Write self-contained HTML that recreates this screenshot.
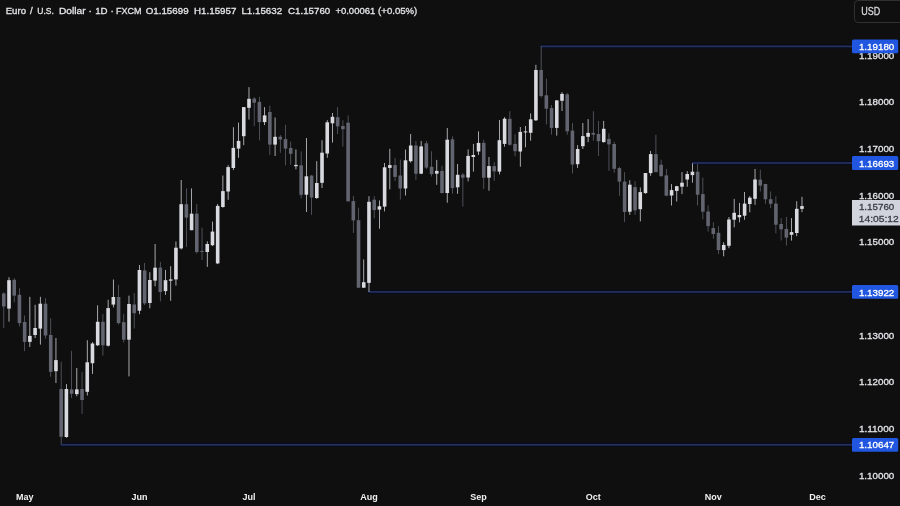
<!DOCTYPE html>
<html><head><meta charset="utf-8"><title>EUR/USD 1D</title>
<style>
html,body{margin:0;padding:0;background:#0f0f0f;}
body{width:900px;height:506px;overflow:hidden;position:relative;font-family:"Liberation Sans",Arial,sans-serif;}
svg{position:absolute;left:0;top:0;display:block;will-change:transform;}
text{paint-order:stroke;}
.usd{position:absolute;left:854px;top:0;width:60px;height:20.7px;border:1px solid #303033;border-radius:4px;box-sizing:content-box;}
</style></head>
<body>
<svg width="900" height="506" viewBox="0 0 900 506">
<rect x="540.13" y="44.4" width="311.87" height="4" fill="#080c1e"/><rect x="540.63" y="45.55" width="311.37" height="1.7" fill="#25315c"/><rect x="691.43" y="161" width="160.57" height="4" fill="#080c1e"/><rect x="691.93" y="162.15" width="160.07" height="1.7" fill="#25315c"/><rect x="367.97" y="289.9" width="484.03" height="4" fill="#080c1e"/><rect x="368.47" y="291.05" width="483.53" height="1.7" fill="#25315c"/><rect x="60.17" y="442.8" width="791.83" height="4" fill="#080c1e"/><rect x="60.67" y="443.95" width="791.33" height="1.7" fill="#25315c"/>
<g fill="#62656f"><rect x="3.41" y="292.2" width="0.75" height="35.8"/><rect x="1.98" y="293.5" width="3.6" height="13"/><rect x="13.84" y="278.2" width="0.75" height="24.1"/><rect x="12.42" y="279.8" width="3.6" height="15.8"/><rect x="19.06" y="288.2" width="0.75" height="38.3"/><rect x="17.63" y="294.8" width="3.6" height="28.3"/><rect x="24.27" y="315.5" width="0.75" height="35.6"/><rect x="22.85" y="322" width="3.6" height="19.9"/><rect x="45.14" y="298.2" width="0.75" height="40.5"/><rect x="43.72" y="303.7" width="3.6" height="31.8"/><rect x="50.36" y="318.2" width="0.75" height="58.5"/><rect x="48.94" y="335" width="3.6" height="36.9"/><rect x="60.79" y="361.7" width="0.75" height="82.6"/><rect x="59.37" y="389" width="3.6" height="47.7"/><rect x="71.23" y="350.8" width="0.75" height="47.2"/><rect x="69.8" y="389.4" width="3.6" height="4.4"/><rect x="81.66" y="372.2" width="0.75" height="41.7"/><rect x="80.24" y="389" width="3.6" height="11"/><rect x="102.53" y="314.1" width="0.75" height="41.5"/><rect x="101.11" y="321.8" width="3.6" height="23.5"/><rect x="118.18" y="284.9" width="0.75" height="39.6"/><rect x="116.76" y="297" width="3.6" height="26.1"/><rect x="123.4" y="313.9" width="0.75" height="28.6"/><rect x="121.97" y="322.2" width="3.6" height="17.5"/><rect x="133.83" y="293.2" width="0.75" height="35.3"/><rect x="132.41" y="304.5" width="3.6" height="8.7"/><rect x="144.27" y="263" width="0.75" height="42"/><rect x="142.84" y="270.4" width="3.6" height="33"/><rect x="159.92" y="262" width="0.75" height="39.4"/><rect x="158.49" y="267.6" width="3.6" height="24.4"/><rect x="186" y="188.4" width="0.75" height="58.5"/><rect x="184.58" y="204.2" width="3.6" height="13.4"/><rect x="196.44" y="204.2" width="0.75" height="49.4"/><rect x="195.01" y="213.7" width="3.6" height="38.3"/><rect x="201.65" y="227.7" width="0.75" height="32.3"/><rect x="200.23" y="250.9" width="3.6" height="1"/><rect x="253.82" y="97.2" width="0.75" height="29"/><rect x="252.4" y="98.6" width="3.6" height="4.1"/><rect x="259.04" y="96.8" width="0.75" height="43.5"/><rect x="257.61" y="101.9" width="3.6" height="20.2"/><rect x="269.47" y="105.7" width="0.75" height="49.2"/><rect x="268.05" y="112" width="3.6" height="32.6"/><rect x="279.91" y="135" width="0.75" height="17.8"/><rect x="278.48" y="136.7" width="3.6" height="2.8"/><rect x="285.12" y="124.8" width="0.75" height="40.5"/><rect x="283.7" y="139.1" width="3.6" height="9.5"/><rect x="290.34" y="141.6" width="0.75" height="23"/><rect x="288.92" y="148" width="3.6" height="5.8"/><rect x="300.78" y="151.4" width="0.75" height="46.9"/><rect x="299.35" y="165.3" width="3.6" height="29.5"/><rect x="311.21" y="175" width="0.75" height="39.8"/><rect x="309.78" y="175.6" width="3.6" height="21.9"/><rect x="337.29" y="107.1" width="0.75" height="26.9"/><rect x="335.87" y="117.2" width="3.6" height="9.2"/><rect x="342.51" y="120.2" width="0.75" height="26.3"/><rect x="341.09" y="126" width="3.6" height="3.2"/><rect x="347.73" y="115.4" width="0.75" height="86.1"/><rect x="346.3" y="122.7" width="3.6" height="78.6"/><rect x="352.95" y="195.8" width="0.75" height="37.1"/><rect x="351.52" y="201.1" width="3.6" height="19.3"/><rect x="358.16" y="207.7" width="0.75" height="80.2"/><rect x="356.74" y="220.2" width="3.6" height="67.5"/><rect x="373.81" y="196.2" width="0.75" height="22.2"/><rect x="372.39" y="199.7" width="3.6" height="10.4"/><rect x="394.68" y="157.9" width="0.75" height="23.1"/><rect x="393.26" y="165.1" width="3.6" height="11.8"/><rect x="399.9" y="159.6" width="0.75" height="39.9"/><rect x="398.47" y="175.5" width="3.6" height="13"/><rect x="415.55" y="140.9" width="0.75" height="39.1"/><rect x="414.12" y="145.5" width="3.6" height="28.2"/><rect x="425.98" y="140.9" width="0.75" height="28.1"/><rect x="424.56" y="143.3" width="3.6" height="24.3"/><rect x="431.2" y="151.3" width="0.75" height="25.2"/><rect x="429.78" y="166.8" width="3.6" height="7.3"/><rect x="441.63" y="165.7" width="0.75" height="27.8"/><rect x="440.21" y="170.9" width="3.6" height="22.1"/><rect x="452.07" y="136.3" width="0.75" height="57.4"/><rect x="450.64" y="139.3" width="3.6" height="48.8"/><rect x="462.5" y="173" width="0.75" height="33.5"/><rect x="461.08" y="174.6" width="3.6" height="3.1"/><rect x="483.37" y="139.7" width="0.75" height="49.3"/><rect x="481.95" y="142.9" width="3.6" height="34.8"/><rect x="493.8" y="162.2" width="0.75" height="18.5"/><rect x="492.38" y="166.1" width="3.6" height="5.3"/><rect x="509.46" y="111.1" width="0.75" height="34.6"/><rect x="508.03" y="118.8" width="3.6" height="26"/><rect x="514.67" y="134.2" width="0.75" height="22.1"/><rect x="513.25" y="143.9" width="3.6" height="7.3"/><rect x="540.76" y="46.3" width="0.75" height="51.3"/><rect x="539.33" y="70" width="3.6" height="26"/><rect x="545.97" y="78.7" width="0.75" height="45.7"/><rect x="544.55" y="95.3" width="3.6" height="13.4"/><rect x="551.19" y="105" width="0.75" height="29.6"/><rect x="549.77" y="108.1" width="3.6" height="19.8"/><rect x="566.84" y="92.9" width="0.75" height="41.8"/><rect x="565.42" y="94.3" width="3.6" height="37"/><rect x="572.06" y="123" width="0.75" height="50.5"/><rect x="570.63" y="130.6" width="3.6" height="33.9"/><rect x="592.93" y="111.2" width="0.75" height="29.5"/><rect x="591.5" y="132.9" width="3.6" height="1.8"/><rect x="598.14" y="120.9" width="0.75" height="35"/><rect x="596.72" y="134" width="3.6" height="7.2"/><rect x="608.58" y="133.4" width="0.75" height="37.4"/><rect x="607.15" y="138.9" width="3.6" height="5.5"/><rect x="613.8" y="141.7" width="0.75" height="31"/><rect x="612.37" y="144" width="3.6" height="24.8"/><rect x="619.01" y="166.8" width="0.75" height="29"/><rect x="617.59" y="168.1" width="3.6" height="13.5"/><rect x="624.23" y="172.2" width="0.75" height="49.9"/><rect x="622.8" y="181.6" width="3.6" height="30.4"/><rect x="634.66" y="181.1" width="0.75" height="33.7"/><rect x="633.24" y="187.1" width="3.6" height="23.2"/><rect x="655.53" y="134.8" width="0.75" height="37.5"/><rect x="654.11" y="154.1" width="3.6" height="18"/><rect x="660.75" y="159.7" width="0.75" height="17.2"/><rect x="659.32" y="164.8" width="3.6" height="11.3"/><rect x="665.97" y="168.9" width="0.75" height="27.3"/><rect x="664.54" y="175.4" width="3.6" height="20.3"/><rect x="697.27" y="164" width="0.75" height="41.5"/><rect x="695.84" y="171.7" width="3.6" height="23"/><rect x="702.48" y="177.7" width="0.75" height="41.6"/><rect x="701.06" y="194.1" width="3.6" height="17.6"/><rect x="707.7" y="205.4" width="0.75" height="26.2"/><rect x="706.28" y="211.5" width="3.6" height="14.6"/><rect x="712.92" y="222.2" width="0.75" height="16.5"/><rect x="711.49" y="228.1" width="3.6" height="5.9"/><rect x="718.14" y="226.1" width="0.75" height="28"/><rect x="716.71" y="232.8" width="3.6" height="17.3"/><rect x="759.87" y="169.7" width="0.75" height="21.8"/><rect x="758.45" y="179.6" width="3.6" height="6"/><rect x="765.09" y="183.8" width="0.75" height="19.9"/><rect x="763.66" y="184" width="3.6" height="15.3"/><rect x="770.31" y="191.5" width="0.75" height="16.6"/><rect x="768.88" y="199.2" width="3.6" height="4.6"/><rect x="775.52" y="196.3" width="0.75" height="37.1"/><rect x="774.1" y="203.6" width="3.6" height="21.1"/><rect x="780.74" y="218.1" width="0.75" height="22.3"/><rect x="779.31" y="224" width="3.6" height="5.3"/><rect x="785.96" y="216.9" width="0.75" height="28.6"/><rect x="784.53" y="228.9" width="3.6" height="8.7"/></g><g fill="#d9dae0"><rect x="8.62" y="277.2" width="0.75" height="44.5"/><rect x="7.2" y="280.2" width="3.6" height="28.4"/><rect x="29.49" y="296.8" width="0.75" height="50.2"/><rect x="28.07" y="335.9" width="3.6" height="6"/><rect x="34.71" y="304.8" width="0.75" height="33.2"/><rect x="33.28" y="328" width="3.6" height="7"/><rect x="39.93" y="296.8" width="0.75" height="47.8"/><rect x="38.5" y="303.7" width="3.6" height="24.9"/><rect x="55.58" y="338" width="0.75" height="45"/><rect x="54.15" y="360.1" width="3.6" height="11.1"/><rect x="66.01" y="384.1" width="0.75" height="53.7"/><rect x="64.59" y="389" width="3.6" height="48"/><rect x="76.44" y="368" width="0.75" height="28.3"/><rect x="75.02" y="389.4" width="3.6" height="4.7"/><rect x="86.88" y="340.2" width="0.75" height="55.3"/><rect x="85.45" y="362.3" width="3.6" height="29.5"/><rect x="92.1" y="342.1" width="0.75" height="31.8"/><rect x="90.67" y="343.5" width="3.6" height="19.7"/><rect x="97.31" y="305.3" width="0.75" height="40.7"/><rect x="95.89" y="321.8" width="3.6" height="23.5"/><rect x="107.75" y="299.8" width="0.75" height="46.7"/><rect x="106.32" y="308.1" width="3.6" height="37.6"/><rect x="112.96" y="279.5" width="0.75" height="27.9"/><rect x="111.54" y="297" width="3.6" height="7.6"/><rect x="128.61" y="295.6" width="0.75" height="80.8"/><rect x="127.19" y="304" width="3.6" height="35.7"/><rect x="139.05" y="265" width="0.75" height="49.2"/><rect x="137.62" y="270" width="3.6" height="40.7"/><rect x="149.48" y="272.2" width="0.75" height="36.1"/><rect x="148.06" y="280" width="3.6" height="23"/><rect x="154.7" y="244" width="0.75" height="42.3"/><rect x="153.27" y="267.7" width="3.6" height="12.9"/><rect x="165.13" y="270" width="0.75" height="24.9"/><rect x="163.71" y="280.2" width="3.6" height="10.9"/><rect x="170.35" y="266.2" width="0.75" height="34.6"/><rect x="168.93" y="279.4" width="3.6" height="1.3"/><rect x="175.57" y="241.5" width="0.75" height="44.1"/><rect x="174.14" y="247.7" width="3.6" height="31.7"/><rect x="180.78" y="180" width="0.75" height="69.5"/><rect x="179.36" y="204.2" width="3.6" height="44.2"/><rect x="191.22" y="188.4" width="0.75" height="41.8"/><rect x="189.79" y="213.7" width="3.6" height="16.5"/><rect x="206.87" y="241.3" width="0.75" height="25.6"/><rect x="205.44" y="244" width="3.6" height="8"/><rect x="212.09" y="221.6" width="0.75" height="24.5"/><rect x="210.66" y="231.6" width="3.6" height="13.6"/><rect x="217.3" y="204" width="0.75" height="60.1"/><rect x="215.88" y="205.9" width="3.6" height="57.5"/><rect x="222.52" y="175.5" width="0.75" height="32.2"/><rect x="221.1" y="191.1" width="3.6" height="15.9"/><rect x="227.74" y="165.2" width="0.75" height="34.6"/><rect x="226.31" y="167.1" width="3.6" height="24.4"/><rect x="232.95" y="127.2" width="0.75" height="42.8"/><rect x="231.53" y="147.9" width="3.6" height="20.1"/><rect x="238.17" y="122.6" width="0.75" height="35.2"/><rect x="236.75" y="140.9" width="3.6" height="7.7"/><rect x="243.39" y="107.1" width="0.75" height="38.1"/><rect x="241.96" y="107.1" width="3.6" height="29.1"/><rect x="248.61" y="87.1" width="0.75" height="32.5"/><rect x="247.18" y="98.8" width="3.6" height="9"/><rect x="264.26" y="107.1" width="0.75" height="18"/><rect x="262.83" y="115.4" width="3.6" height="6.7"/><rect x="274.69" y="117.5" width="0.75" height="38.5"/><rect x="273.27" y="136.8" width="3.6" height="7.8"/><rect x="295.56" y="149.4" width="0.75" height="19.9"/><rect x="294.13" y="164.9" width="3.6" height="1.3"/><rect x="305.99" y="138" width="0.75" height="74"/><rect x="304.57" y="176.3" width="3.6" height="18.4"/><rect x="316.43" y="161.1" width="0.75" height="37.8"/><rect x="315" y="183" width="3.6" height="15"/><rect x="321.64" y="140.2" width="0.75" height="47.8"/><rect x="320.22" y="152.7" width="3.6" height="30.1"/><rect x="326.86" y="120.2" width="0.75" height="37.6"/><rect x="325.44" y="122.3" width="3.6" height="31.2"/><rect x="332.08" y="113" width="0.75" height="29.6"/><rect x="330.65" y="116.8" width="3.6" height="6.5"/><rect x="363.38" y="259.4" width="0.75" height="28.5"/><rect x="361.95" y="282.2" width="3.6" height="5.5"/><rect x="368.6" y="196.2" width="0.75" height="95.7"/><rect x="367.17" y="201.8" width="3.6" height="81.1"/><rect x="379.03" y="200.4" width="0.75" height="28.3"/><rect x="377.61" y="206.3" width="3.6" height="3.3"/><rect x="384.25" y="163" width="0.75" height="48.4"/><rect x="382.82" y="167.3" width="3.6" height="39.3"/><rect x="389.46" y="148.8" width="0.75" height="40.5"/><rect x="388.04" y="165.1" width="3.6" height="2.8"/><rect x="405.12" y="149.6" width="0.75" height="45.9"/><rect x="403.69" y="160.3" width="3.6" height="28.2"/><rect x="410.33" y="134" width="0.75" height="28.6"/><rect x="408.91" y="145.5" width="3.6" height="15.7"/><rect x="420.77" y="140.9" width="0.75" height="33.2"/><rect x="419.34" y="146.4" width="3.6" height="27.3"/><rect x="436.42" y="159.9" width="0.75" height="24.9"/><rect x="434.99" y="170.9" width="3.6" height="2.8"/><rect x="446.85" y="128" width="0.75" height="74.7"/><rect x="445.43" y="139.7" width="3.6" height="53.3"/><rect x="457.29" y="164" width="0.75" height="29.8"/><rect x="455.86" y="174.8" width="3.6" height="12.5"/><rect x="467.72" y="149.4" width="0.75" height="32"/><rect x="466.29" y="155.9" width="3.6" height="21.6"/><rect x="472.94" y="143.9" width="0.75" height="27.7"/><rect x="471.51" y="155" width="3.6" height="2"/><rect x="478.15" y="131.4" width="0.75" height="23.6"/><rect x="476.73" y="142.9" width="3.6" height="8.6"/><rect x="488.59" y="157" width="0.75" height="33.7"/><rect x="487.16" y="166.1" width="3.6" height="11.6"/><rect x="499.02" y="120" width="0.75" height="54.4"/><rect x="497.6" y="140.2" width="3.6" height="31.4"/><rect x="504.24" y="117.2" width="0.75" height="29.5"/><rect x="502.81" y="118.7" width="3.6" height="25.2"/><rect x="519.89" y="127" width="0.75" height="39.7"/><rect x="518.47" y="131.9" width="3.6" height="19.6"/><rect x="525.11" y="126" width="0.75" height="21.3"/><rect x="523.68" y="131.4" width="3.6" height="1"/><rect x="530.32" y="113.4" width="0.75" height="27.3"/><rect x="528.9" y="119.3" width="3.6" height="13.5"/><rect x="535.54" y="64.8" width="0.75" height="56.2"/><rect x="534.12" y="70" width="3.6" height="50.3"/><rect x="556.41" y="100.1" width="0.75" height="35.5"/><rect x="554.98" y="100.4" width="3.6" height="27.5"/><rect x="561.63" y="92.1" width="0.75" height="18.9"/><rect x="560.2" y="93.9" width="3.6" height="6.9"/><rect x="577.28" y="145.1" width="0.75" height="22.8"/><rect x="575.85" y="149" width="3.6" height="15.2"/><rect x="582.49" y="123" width="0.75" height="26"/><rect x="581.07" y="136.1" width="3.6" height="10.1"/><rect x="587.71" y="119.1" width="0.75" height="23"/><rect x="586.29" y="132.9" width="3.6" height="3.9"/><rect x="603.36" y="120.9" width="0.75" height="21.7"/><rect x="601.94" y="128.8" width="3.6" height="13.3"/><rect x="629.45" y="180.2" width="0.75" height="34.6"/><rect x="628.02" y="184.7" width="3.6" height="27"/><rect x="639.88" y="187.5" width="0.75" height="33.9"/><rect x="638.46" y="192.1" width="3.6" height="17.1"/><rect x="645.1" y="173" width="0.75" height="20.7"/><rect x="643.67" y="173" width="3.6" height="20.1"/><rect x="650.31" y="150.9" width="0.75" height="24.9"/><rect x="648.89" y="154.1" width="3.6" height="19"/><rect x="671.18" y="184.1" width="0.75" height="21.4"/><rect x="669.76" y="190.1" width="3.6" height="5.4"/><rect x="676.4" y="185.9" width="0.75" height="15.6"/><rect x="674.98" y="186.2" width="3.6" height="4.7"/><rect x="681.62" y="172.1" width="0.75" height="22"/><rect x="680.19" y="182.7" width="3.6" height="4"/><rect x="686.83" y="171.2" width="0.75" height="15.5"/><rect x="685.41" y="174" width="3.6" height="5.5"/><rect x="692.05" y="163.4" width="0.75" height="19.3"/><rect x="690.63" y="171.7" width="3.6" height="3.4"/><rect x="723.35" y="242.2" width="0.75" height="14.1"/><rect x="721.93" y="244.9" width="3.6" height="5.2"/><rect x="728.57" y="217" width="0.75" height="31.2"/><rect x="727.14" y="219.5" width="3.6" height="26.3"/><rect x="733.79" y="198.9" width="0.75" height="28.4"/><rect x="732.36" y="212.8" width="3.6" height="6.9"/><rect x="739" y="202.9" width="0.75" height="19.4"/><rect x="737.58" y="215" width="3.6" height="2.3"/><rect x="744.22" y="192" width="0.75" height="27.8"/><rect x="742.8" y="203.6" width="3.6" height="12.1"/><rect x="749.44" y="196.1" width="0.75" height="16.2"/><rect x="748.01" y="197.7" width="3.6" height="6.3"/><rect x="754.65" y="169" width="0.75" height="35.8"/><rect x="753.23" y="179.5" width="3.6" height="19.3"/><rect x="791.17" y="218.1" width="0.75" height="22.5"/><rect x="789.75" y="232.1" width="3.6" height="2.7"/><rect x="796.39" y="201.2" width="0.75" height="35"/><rect x="794.97" y="208.8" width="3.6" height="24.2"/><rect x="801.61" y="196.8" width="0.75" height="15.4"/><rect x="800.18" y="206.1" width="3.6" height="2.8"/></g>
<g font-family="Liberation Sans, Arial, sans-serif" font-size="9.2" fill="#e3e4e8" stroke="#e3e4e8" stroke-width="0.3"><text x="858.9" y="58.51" textLength="35.4" lengthAdjust="spacingAndGlyphs">1.19000</text><text x="858.9" y="105.21" textLength="35.4" lengthAdjust="spacingAndGlyphs">1.18000</text><text x="858.9" y="151.91" textLength="35.4" lengthAdjust="spacingAndGlyphs">1.17000</text><text x="858.9" y="198.61" textLength="35.4" lengthAdjust="spacingAndGlyphs">1.16000</text><text x="858.9" y="245.31" textLength="35.4" lengthAdjust="spacingAndGlyphs">1.15000</text><text x="858.9" y="338.71" textLength="35.4" lengthAdjust="spacingAndGlyphs">1.13000</text><text x="858.9" y="385.41" textLength="35.4" lengthAdjust="spacingAndGlyphs">1.12000</text><text x="858.9" y="432.11" textLength="35.4" lengthAdjust="spacingAndGlyphs">1.11000</text><text x="858.9" y="478.81" textLength="35.4" lengthAdjust="spacingAndGlyphs">1.10000</text></g>
<g font-family="Liberation Sans, Arial, sans-serif" font-size="9.2" stroke-width="0.3"><rect x="852" y="39.5" width="46.2" height="13.8" rx="1.5" fill="#2157e0"/><text x="858.9" y="50" textLength="35.4" lengthAdjust="spacingAndGlyphs" fill="#ffffff" stroke="#ffffff">1.19180</text><rect x="852" y="156.1" width="46.2" height="13.8" rx="1.5" fill="#2157e0"/><text x="858.9" y="166.6" textLength="35.4" lengthAdjust="spacingAndGlyphs" fill="#ffffff" stroke="#ffffff">1.16693</text><rect x="852" y="285" width="46.2" height="13.8" rx="1.5" fill="#2157e0"/><text x="858.9" y="295.5" textLength="35.4" lengthAdjust="spacingAndGlyphs" fill="#ffffff" stroke="#ffffff">1.13922</text><rect x="852" y="437.9" width="46.2" height="13.8" rx="1.5" fill="#2157e0"/><text x="858.9" y="448.4" textLength="35.4" lengthAdjust="spacingAndGlyphs" fill="#ffffff" stroke="#ffffff">1.10647</text></g>
<rect x="852" y="200" width="48" height="25.5" fill="#d1d4dc"/>
<g font-family="Liberation Sans, Arial, sans-serif" font-size="9.2" fill="#3a3d46" stroke="#3a3d46" stroke-width="0.3">
<text x="858.9" y="209.9" textLength="35.4" lengthAdjust="spacingAndGlyphs">1.15760</text><text x="858.8" y="222" textLength="40" lengthAdjust="spacingAndGlyphs">14:05:12</text></g>
<g font-family="Liberation Sans, Arial, sans-serif" font-size="9" font-weight="bold" fill="#f0f0f2"><text x="24.65" y="500" text-anchor="middle">May</text><text x="139.42" y="500" text-anchor="middle">Jun</text><text x="248.98" y="500" text-anchor="middle">Jul</text><text x="368.97" y="500" text-anchor="middle">Aug</text><text x="478.53" y="500" text-anchor="middle">Sep</text><text x="593.3" y="500" text-anchor="middle">Oct</text><text x="713.29" y="500" text-anchor="middle">Nov</text><text x="817.63" y="500" text-anchor="middle">Dec</text></g>
<g font-family="Liberation Sans, Arial, sans-serif" font-size="9.7" fill="#e4e5e8" stroke="#e4e5e8" stroke-width="0.3"><text x="5.7" y="13.9" textLength="20.3" lengthAdjust="spacingAndGlyphs">Euro</text><text x="30.1" y="13.9">/</text><text x="37.3" y="13.9" textLength="16.6" lengthAdjust="spacingAndGlyphs">U.S.</text><text x="58.9" y="13.9" textLength="26.7" lengthAdjust="spacingAndGlyphs">Dollar</text><text x="88.4" y="13.9">·</text><text x="95.2" y="13.9" textLength="12.4" lengthAdjust="spacingAndGlyphs">1D</text><text x="110.4" y="13.9">·</text><text x="115.9" y="13.9" textLength="25.6" lengthAdjust="spacingAndGlyphs">FXCM</text><text x="145.7" y="13.9" textLength="42.9" lengthAdjust="spacingAndGlyphs">O1.15699</text><text x="194.1" y="13.9" textLength="42.2" lengthAdjust="spacingAndGlyphs">H1.15957</text><text x="241.4" y="13.9" textLength="40.8" lengthAdjust="spacingAndGlyphs">L1.15632</text><text x="288.1" y="13.9" textLength="42.1" lengthAdjust="spacingAndGlyphs">C1.15760</text><text x="335.4" y="13.9" textLength="39.9" lengthAdjust="spacingAndGlyphs">+0.00061</text><text x="378.1" y="13.9" textLength="39.2" lengthAdjust="spacingAndGlyphs">(+0.05%)</text></g>
</svg>
<div class="usd"></div>
<svg width="900" height="506" viewBox="0 0 900 506"><g font-family="Liberation Sans, Arial, sans-serif" font-size="10.9" fill="#d8d9dc" stroke="#d8d9dc" stroke-width="0.3"><text x="861.2" y="14.9" textLength="19" lengthAdjust="spacingAndGlyphs">USD</text></g></svg>
</body></html>
